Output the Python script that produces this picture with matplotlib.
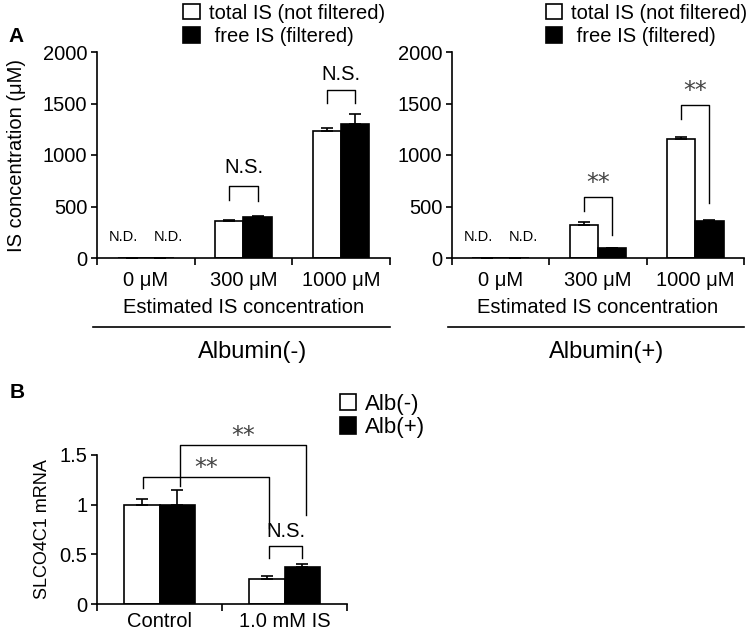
import numpy as np
import matplotlib
matplotlib.use("Agg")
import matplotlib.pyplot as plt

plt.rcParams['font.family'] = ['Liberation Sans', 'DejaVu Sans']

# Dane - panel A
conc_labels = ['0 μM', '300 μM', '1000 μM']
total_neg = [0, 360, 1233]
total_neg_err = [0, 12, 26]
free_neg = [0, 401, 1301]
free_neg_err = [0, 8, 95]
total_pos = [0, 320, 1152]
total_pos_err = [0, 30, 24]
free_pos = [0, 94, 362]
free_pos_err = [0, 3, 3]

# Dane - panel B
groups_b = ['Control', '1.0 mM IS']
alb_neg = [1.0, 0.25]
alb_neg_err = [0.06, 0.03]
alb_pos = [1.0, 0.37]
alb_pos_err = [0.15, 0.03]

W, H = 752, 634
FS = 14.5


def rect(x0, x1, ytop, ybot):
    return [x0 / W, 1 - ybot / H, (x1 - x0) / W, (ybot - ytop) / H]


def bracket(ax, x1, x2, top, leg1, leg2, text, text_y, star=False):
    ax.plot([x1, x1, x2, x2], [leg1, top, top, leg2], color='black', lw=1.0, clip_on=False)
    if star:
        ax.text((x1 + x2) / 2, text_y, text, ha='center', va='center', fontsize=17,
                color='#444444', family='DejaVu Sans', clip_on=False)
    else:
        ax.text((x1 + x2) / 2, text_y, text, ha='center', va='center', fontsize=FS, clip_on=False)


def style_axes(ax, ncat):
    for s in ['top', 'right']:
        ax.spines[s].set_visible(False)
    for s in ['left', 'bottom']:
        ax.spines[s].set_linewidth(1.2)
    ax.set_xlim(-0.5, ncat - 0.5)
    ax.set_xticks(np.arange(ncat + 1) - 0.5)
    ax.set_xticklabels([])
    ax.set_xticks(np.arange(ncat), minor=True)
    ax.tick_params(axis='x', which='major', direction='out', length=5, width=1.2)
    ax.tick_params(axis='x', which='minor', length=0, pad=9, labelsize=FS)
    ax.tick_params(axis='y', direction='out', length=4, width=1.2, labelsize=FS, pad=3)


def panel_a(ax, total, total_err, free, free_err, legend_x, title):
    x = np.arange(len(conc_labels))
    bw = 0.29
    b1 = ax.bar(x - bw / 2, total, bw, color='white', edgecolor='black', linewidth=1.2,
                yerr=[np.zeros(3), total_err], capsize=4, error_kw=dict(elinewidth=1.2, capthick=1.2),
                label='total IS (not filtered)')
    b2 = ax.bar(x + bw / 2, free, bw, color='black', edgecolor='black', linewidth=1.2,
                yerr=[np.zeros(3), free_err], capsize=4, error_kw=dict(elinewidth=1.2, capthick=1.2),
                label=' free IS (filtered)')
    # brak danych dla 0 μM
    ax.text(x[0] - 0.23, 204, 'N.D.', ha='center', va='center', fontsize=10.5)
    ax.text(x[0] + 0.23, 204, 'N.D.', ha='center', va='center', fontsize=10.5)
    style_axes(ax, 3)
    ax.set_ylim(0, 2000)
    ax.set_yticks([0, 500, 1000, 1500, 2000])
    ax.set_xticklabels(conc_labels, minor=True)
    ax.set_xlabel('Estimated IS concentration', fontsize=FS, labelpad=6)
    ax.plot([-0.012, 1.0], [-0.335, -0.335], color='black', lw=1.2, transform=ax.transAxes, clip_on=False)
    ax.text(0.53, -0.456, title, ha='center', va='center', fontsize=17, transform=ax.transAxes)
    ax.legend(handles=[b1, b2], loc='upper left', bbox_to_anchor=(legend_x, 1.235),
              frameon=False, fontsize=FS, handlelength=0.8, handleheight=0.8,
              handletextpad=0.45, labelspacing=0.22, borderpad=0, borderaxespad=0)
    return bw


fig = plt.figure(figsize=(W / 100, H / 100), dpi=100)

axL = fig.add_axes(rect(97, 390, 52, 258))
bw = panel_a(axL, total_neg, total_neg_err, free_neg, free_neg_err, 0.295, 'Albumin(-)')
bracket(axL, 1 - bw / 2, 1 + bw / 2, 699, 563, 553, 'N.S.', 883)
bracket(axL, 2 - bw / 2, 2 + bw / 2, 1631, 1505, 1505, 'N.S.', 1777)
axL.set_ylabel('IS concentration (μM)', fontsize=FS, labelpad=12)

axR = fig.add_axes(rect(452, 744, 52, 258))
panel_a(axR, total_pos, total_pos_err, free_pos, free_pos_err, 0.322, 'Albumin(+)')
bracket(axR, 1 - bw / 2, 1 + bw / 2, 592, 457, 223, '**', 728, star=True)
bracket(axR, 2 - bw / 2, 2 + bw / 2, 1486, 1350, 534, '**', 1622, star=True)

# Panel B
axB = fig.add_axes(rect(97, 347, 455, 604))
xb = np.arange(len(groups_b))
bwb = 0.285
c1 = axB.bar(xb - bwb / 2, alb_neg, bwb, color='white', edgecolor='black', linewidth=1.2,
             yerr=[np.zeros(2), alb_neg_err], capsize=4, error_kw=dict(elinewidth=1.2, capthick=1.2),
             label='Alb(-)')
c2 = axB.bar(xb + bwb / 2, alb_pos, bwb, color='black', edgecolor='black', linewidth=1.2,
             yerr=[np.zeros(2), alb_pos_err], capsize=4, error_kw=dict(elinewidth=1.2, capthick=1.2),
             label='Alb(+)')
style_axes(axB, 2)
axB.set_ylim(0, 1.5)
axB.set_yticks([0, 0.5, 1, 1.5])
axB.set_yticklabels(['0', '0.5', '1', '1.5'])
axB.set_xticklabels(groups_b, minor=True)
axB.tick_params(axis='x', which='minor', pad=6)
axB.set_ylabel('SLCO4C1 mRNA', fontsize=13, labelpad=6)
bracket(axB, -bwb / 2 + 0.01, 1 - bwb / 2 + 0.02, 1.28, 1.17, 0.77, '**', 1.37, star=True)
bracket(axB, bwb / 2 + 0.02, 1 + bwb / 2 + 0.03, 1.60, 1.19, 0.90, '**', 1.69, star=True)
bracket(axB, 1 - bwb / 2 + 0.02, 1 + bwb / 2, 0.58, 0.46, 0.46, 'N.S.', 0.73)
axB.legend(handles=[c1, c2], loc='upper left', bbox_to_anchor=(0.97, 1.41),
           frameon=False, fontsize=16, handlelength=0.75, handleheight=0.75,
           handletextpad=0.4, labelspacing=0.1, borderpad=0, borderaxespad=0)

fig.text(8 / W, 1 - 37 / H, 'A', fontsize=15, fontweight='bold', va='center', ha='left')
fig.text(10 / W, 1 - 392 / H, 'B', fontsize=15, fontweight='bold', va='center', ha='left')

fig.savefig('out.png', dpi=100)
